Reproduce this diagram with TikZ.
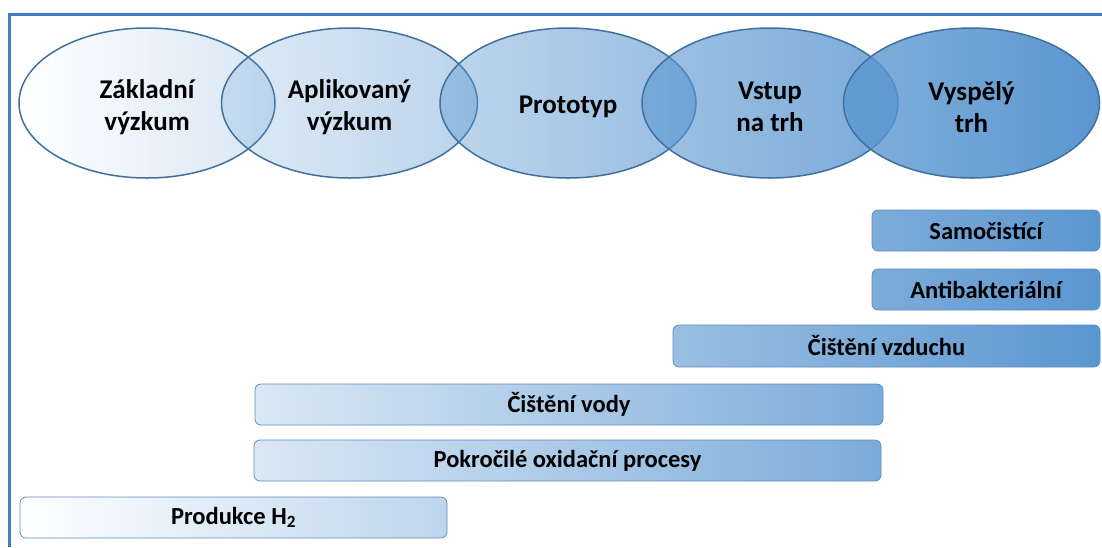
\documentclass[tikz,border=0pt]{standalone}
\usepackage{fontspec}
\setmainfont{Carlito}
\usetikzlibrary{shapes.geometric,fadings}

\definecolor{vennblue}{HTML}{5A96D0}
\definecolor{vennline}{HTML}{41709C}
\definecolor{barline}{HTML}{5F8DBE}
\definecolor{framecol}{HTML}{3F7DC1}

% one fading per circle, so that the blue grows from left to right
\tikzfading[name=fadeone, left color=transparent!100, right color=transparent!76]
\tikzfading[name=fadetwo, left color=transparent!81, right color=transparent!58]
\tikzfading[name=fadethree, left color=transparent!61, right color=transparent!37]
\tikzfading[name=fadefour, left color=transparent!42, right color=transparent!19]
\tikzfading[name=fadefive, left color=transparent!24, right color=transparent!0]

\begin{document}
\begin{tikzpicture}[x=1pt,y=-1pt,
    venn/.style={ellipse,draw=vennline,line width=1.5pt,minimum width=256pt,minimum height=150pt,inner sep=0pt},
    vennlabel/.style={align=center,inner sep=0pt,font=\bfseries\fontsize{27}{32}\selectfont},
    bar/.style={rectangle,rounded corners=6pt,draw=barline,line width=0.8pt,minimum height=41pt,
      inner sep=0pt,font=\bfseries\fontsize{24.5}{28}\selectfont}]
    \useasboundingbox (0,0) rectangle (1102,547);
    \draw[framecol,line width=3pt] (9,547) -- (9,14) -- (1102,14);

    \node (basic) at (147,103) [venn,preaction={fill=vennblue,path fading=fadeone}] {};
    \node [vennlabel] at ([yshift=-4pt]basic) {Základní\\výzkum};
    \node (applied) at (349.5,103) [venn,preaction={fill=vennblue,path fading=fadetwo}] {};
    \node [vennlabel] at ([yshift=-4pt]applied) {Aplikovaný\\výzkum};
    \node (proto) at (568,103) [venn,preaction={fill=vennblue,path fading=fadethree}] {};
    \node [vennlabel] at ([yshift=-4pt]proto) {Prototyp};
    \node (entry) at (770,103) [venn,preaction={fill=vennblue,path fading=fadefour}] {};
    \node [vennlabel] at ([yshift=-4pt]entry) {Vstup\\na trh};
    \node (mature) at (971.5,103) [venn,preaction={fill=vennblue,path fading=fadefive}] {};
    \node [vennlabel] at ([yshift=-4pt]mature) {Vyspělý\\trh};

    \node (selfclean) at (986,230.5) [bar,minimum width=228pt,left color=vennblue!79!white,right color=vennblue] {Samočistící};
    \node (antibac) at (986,289.5) [bar,minimum width=228pt,left color=vennblue!79!white,right color=vennblue] {Antibakteriální};
    \node (air) at (886.5,346) [bar,minimum width=427pt,minimum height=42pt,left color=vennblue!61!white,right color=vennblue] {Čištění vzduchu};
    \node (water) at (569,404.5) [bar,minimum width=628pt,left color=vennblue!22!white,right color=vennblue!80!white] {Čištění vody};
    \node (aop) at (567.5,460.5) [bar,minimum width=627pt,left color=vennblue!22!white,right color=vennblue!80!white] {Pokročilé oxidační procesy};
    \node (hydrogen) at (233.5,517.5) [bar,minimum width=427pt,left color=white,right color=vennblue!40!white] {Produkce H\textsubscript{2}};
\end{tikzpicture}
\end{document}
